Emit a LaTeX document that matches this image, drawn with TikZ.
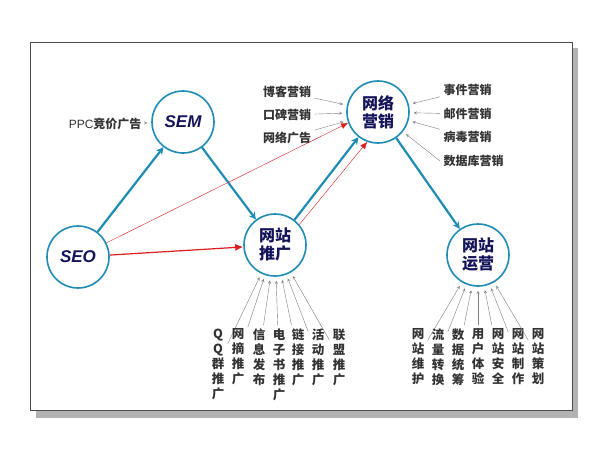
\documentclass[tikz,border=0pt]{standalone}
\usepackage{fontspec}
\setmainfont{Liberation Sans}
\newfontfamily\cjk{Noto Sans CJK SC}
\usetikzlibrary{positioning,shadows,arrows.meta}
\definecolor{ringblue}{RGB}{30,140,180}
\definecolor{navy}{RGB}{20,20,90}
\definecolor{arrowred}{RGB}{220,30,30}
\begin{document}
\begin{tikzpicture}[x=1pt,y=-1pt,
	hub/.style={circle, draw=ringblue, line width=1.6pt, fill=white, minimum size=62pt, inner sep=0pt, font=\cjk\bfseries\fontsize{16}{18}\selectfont, text=navy, align=center},
	tag/.style={font=\cjk\bfseries\fontsize{12}{13}\selectfont, text=black!80},
	vtag/.style={font=\cjk\bfseries\fontsize{12.5}{15}\selectfont, text=black!80, align=center, anchor=north},
	feed/.style={->, >=stealth, gray, thin, shorten >=4pt},
	main/.style={->, >=stealth, ringblue, line width=2.2pt},
	push/.style={->, >=latex, arrowred, thin}]
	\useasboundingbox (0,0) rectangle (600,450);
	\fill[gray!60] (36,48) rectangle (578,418);
	\draw[black!70, fill=white] (30,42) rectangle (572,410);
	% hubs
	\node[hub, font=\bfseries\itshape\fontsize{17}{18}\selectfont] (sem) at (183,122) {SEM};
	\node[hub, font=\bfseries\itshape\fontsize{17}{18}\selectfont] (seo) at (78,257) {SEO};
	\node[hub] (tg) at (275,245) {网站\\推广};
	\node[hub] (yx) at (378,112) {网络\\营销};
	\node[hub] (yy) at (478,255) {网站\\运营};
	% main flow
	\draw[main] (seo) -- (sem);
	\draw[main] (sem) -- (tg);
	\draw[main] (tg) -- (yx);
	\draw[main] (yx) -- (yy);
	\draw[push, line width=1.2pt, >={Latex[length=8pt,width=7pt]}] (seo) -- (tg);
	\draw[push, >={Latex[length=7pt,width=6pt]}] (seo) -- (yx.200);
	\draw[push, >={Latex[length=7pt,width=6pt]}] (tg.40) -- (yx.250);
	% inputs
	\node[tag, anchor=east, font=\fontsize{12}{13}\selectfont] (ppc) at (145,124) {PPC\cjk\bfseries 竞价广告};
	\draw[feed] (ppc) -- (sem);
	\foreach \t/\y [count=\i] in {博客营销/92,口碑营销/115,网络广告/138}{
		\node[tag] (l\i) at (287,\y) {\t};
		\draw[feed] (l\i) -- (yx);
	}
	\foreach \t/\y [count=\i] in {事件营销/90,邮件营销/114,病毒营销/137}{
		\node[tag, anchor=west] (r\i) at (440,\y) {\t};
		\draw[feed] (r\i) -- (yx);
	}
	\node[tag, anchor=west] (r4) at (440,161) {数据库营销};
	\draw[feed] (r4.west) -- (yx);
	\foreach \t/\x [count=\i] in {Q\\Q\\群\\推\\广/218,网\\摘\\推\\广/238,信\\息\\发\\布/259,电\\子\\书\\推\\广/279,链\\接\\推\\广/298,活\\动\\推\\广/318,联\\盟\\推\\广/339}{
		\node[vtag] (b\i) at (\x,325) {\t};
		\draw[feed] (b\i) -- (tg);
	}
	\foreach \t/\x [count=\i] in {网\\站\\维\\护/418,流\\量\\转\\换/438,数\\据\\统\\筹/458,用\\户\\体\\验/478,网\\站\\安\\全/498,网\\站\\制\\作/518,网\\站\\策\\划/538}{
		\node[vtag] (o\i) at (\x,325) {\t};
		\draw[feed] (o\i) -- (yy);
	}
\end{tikzpicture}
\end{document}
